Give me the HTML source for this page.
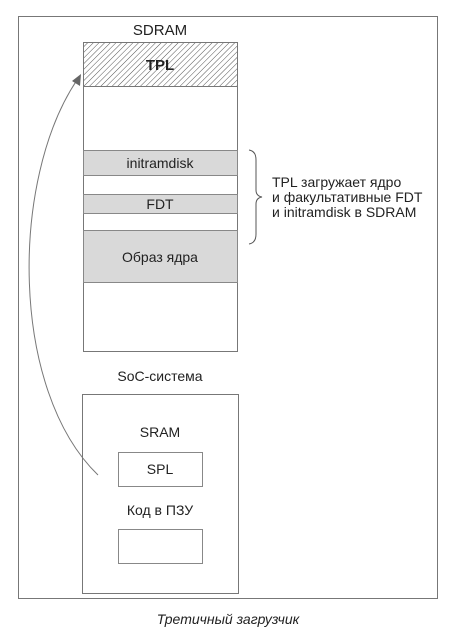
<!DOCTYPE html>
<html><head><meta charset="utf-8"><style>
body{margin:0;background:#fff;}
svg text{font-family:"Liberation Sans",sans-serif;fill:#222;}
</style></head><body>
<svg width="456" height="636" viewBox="0 0 456 636" xmlns="http://www.w3.org/2000/svg">
<defs>
<pattern id="h" width="4" height="4" patternUnits="userSpaceOnUse" patternTransform="rotate(45)">
<rect width="4" height="4" fill="#fff"/><line x1="0" y1="0" x2="0" y2="4" stroke="#555" stroke-width="1"/>
</pattern>
</defs>
<rect x="18.5" y="16.5" width="419" height="582" fill="#fff" stroke="#777" stroke-width="1"/>
<text x="160" y="35" font-size="15" text-anchor="middle">SDRAM</text>
<rect x="83.5" y="42.5" width="154" height="44" fill="url(#h)" stroke="#777"/>
<text x="160" y="70" font-size="15" font-weight="bold" text-anchor="middle">TPL</text>
<rect x="83.5" y="86.5" width="154" height="265" fill="#fff" stroke="#777"/>
<rect x="83.5" y="150.5" width="154" height="25" fill="#d9d9d9" stroke="#888"/>
<text x="160" y="168" font-size="14" text-anchor="middle">initramdisk</text>
<rect x="83.5" y="194.5" width="154" height="19" fill="#d9d9d9" stroke="#888"/>
<text x="160" y="209" font-size="14" text-anchor="middle">FDT</text>
<rect x="83.5" y="230.5" width="154" height="52" fill="#d9d9d9" stroke="#888"/>
<text x="160" y="262" font-size="14" text-anchor="middle">Образ ядра</text>
<path d="M249,150 Q256,151 256,160 L256,190 Q256,196 262,197 Q256,198 256,204 L256,234 Q256,243 249,244" fill="none" stroke="#555" stroke-width="1"/>
<text font-size="14"><tspan x="272" y="187">TPL загружает ядро</tspan><tspan x="272" y="202">и факультативные FDT</tspan><tspan x="272" y="217">и initramdisk в SDRAM</tspan></text>
<text x="160" y="381" font-size="14" text-anchor="middle">SoC-система</text>
<rect x="82.5" y="394.5" width="156" height="199" fill="#fff" stroke="#777"/>
<text x="160" y="437" font-size="14" text-anchor="middle">SRAM</text>
<rect x="118.5" y="452.5" width="84" height="34" fill="#fff" stroke="#888"/>
<text x="160" y="474" font-size="14" text-anchor="middle">SPL</text>
<text x="160" y="515" font-size="14" text-anchor="middle">Код в ПЗУ</text>
<rect x="118.5" y="529.5" width="84" height="34" fill="#fff" stroke="#888"/>
<path d="M98,475 C10,390 10,180 77,80" fill="none" stroke="#777" stroke-width="1"/>
<polygon points="81,74 80,86 72,81" fill="#666"/>
<text x="228" y="624" font-size="14" font-style="italic" text-anchor="middle">Третичный загрузчик</text>
</svg>
</body></html>
